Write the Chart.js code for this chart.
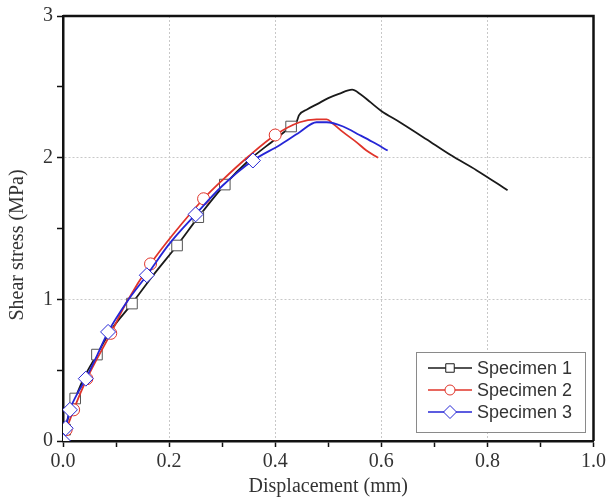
<!DOCTYPE html>
<html>
<head>
<meta charset="utf-8">
<script src="https://cdn.jsdelivr.net/npm/chart.js@4/dist/chart.umd.min.js"></script>
<style>
  html, body { margin: 0; padding: 0; background: #fff; }
  #wrap { width: 609px; height: 501px; position: relative; }
</style>
</head>
<body>
<div id="wrap"><canvas id="chart-shear"></canvas></div>
<script>
// ── Data ───────────────────────────────────────────────────────
const seriesLabels = ["Specimen 1", "Specimen 2", "Specimen 3"];
const yTitle = "Shear stress (MPa)";
const xTitle = "Displacement (mm)";

// Specimen 1 (black, squares)
const s1Disp   = [0, 0.004, 0.010, 0.023, 0.040, 0.064, 0.090, 0.130, 0.170, 0.215, 0.255, 0.305, 0.350, 0.400, 0.430, 0.440, 0.445, 0.460, 0.480, 0.500, 0.520, 0.545, 0.560, 0.580, 0.600, 0.635, 0.685, 0.730, 0.780, 0.838];
const s1Stress = [0, 0.08, 0.17, 0.30, 0.45, 0.61, 0.78, 0.97, 1.17, 1.38, 1.58, 1.81, 1.98, 2.13, 2.22, 2.25, 2.30, 2.34, 2.38, 2.42, 2.45, 2.48, 2.45, 2.39, 2.33, 2.25, 2.13, 2.02, 1.91, 1.77];
const s1Marks  = [1, 3, 5, 7, 9, 10, 11, 14];

// Specimen 2 (red, circles)
const s2Disp   = [0, 0.006, 0.012, 0.020, 0.045, 0.090, 0.120, 0.165, 0.210, 0.265, 0.300, 0.350, 0.400, 0.446, 0.478, 0.497, 0.509, 0.528, 0.553, 0.572, 0.594];
const s2Stress = [0, 0.08, 0.14, 0.22, 0.44, 0.76, 0.98, 1.25, 1.47, 1.71, 1.84, 2.01, 2.16, 2.25, 2.27, 2.27, 2.24, 2.18, 2.11, 2.05, 2.00];
const s2Marks  = [1, 3, 4, 5, 7, 9, 12];

// Specimen 3 (blue, diamonds)
const s3Disp   = [0, 0.005, 0.013, 0.025, 0.043, 0.065, 0.085, 0.120, 0.158, 0.200, 0.250, 0.300, 0.358, 0.409, 0.446, 0.478, 0.497, 0.528, 0.559, 0.584, 0.612];
const s3Stress = [0, 0.09, 0.22, 0.32, 0.44, 0.61, 0.77, 0.98, 1.17, 1.39, 1.60, 1.80, 1.98, 2.09, 2.18, 2.25, 2.25, 2.22, 2.16, 2.11, 2.05];
const s3Marks  = [0, 1, 2, 4, 6, 8, 10, 12];

// Axis ranges / ticks
const xRange = [0, 1.0];
const yRange = [0, 3];
const xStep  = 0.1;   // labelled every 0.2
const yStep  = 0.5;   // labelled every 1

// ── Helpers ───────────────────────────────────────────────────
const toPoints = (xs, ys) => xs.map((x, i) => ({ x, y: ys[i] }));
const radii    = (xs, marks, r) => xs.map((_, i) => (marks.includes(i) ? r : 0));

const SERIF = "'Liberation Serif', 'Times New Roman', serif";
const SANS  = "'Liberation Sans', Arial, sans-serif";

const isMajorX = (v) => Math.round(v * 10) % 2 === 0;
const isMajorY = (v) => Math.abs(v - Math.round(v)) < 1e-6;

// Box frame (top + right edges) and the rotated y title
const framePlugin = {
  id: "frame",
  afterDatasetsDraw(chart) {
    const { ctx, chartArea: a } = chart;
    ctx.save();
    ctx.strokeStyle = "#111";
    ctx.lineWidth = 2.5;
    ctx.beginPath();
    ctx.moveTo(a.left, a.top);
    ctx.lineTo(a.right, a.top);
    ctx.lineTo(a.right, a.bottom);
    ctx.stroke();
    ctx.restore();
  },
  afterDraw(chart) {
    const { ctx } = chart;
    ctx.save();
    ctx.translate(18, 245);
    ctx.rotate(-Math.PI / 2);
    ctx.fillStyle = "#333";
    ctx.font = "20px " + SERIF;
    ctx.textAlign = "center";
    ctx.textBaseline = "middle";
    ctx.fillText(yTitle, 0, 0);
    ctx.restore();
  },
};

// Origin-style legend: line with marker in middle
const legendPlugin = {
  id: "originLegend",
  afterDraw(chart) {
    const { ctx } = chart;
    const box = { x: 416, y: 352, w: 169, h: 80 };
    ctx.save();
    ctx.fillStyle = "#fff";
    ctx.fillRect(box.x, box.y, box.w, box.h);
    ctx.strokeStyle = "#8a8a8a";
    ctx.lineWidth = 1;
    ctx.strokeRect(box.x + 0.5, box.y + 0.5, box.w, box.h);

    chart.data.datasets.forEach((ds, i) => {
      const y = 368 + i * 22;
      ctx.strokeStyle = ds.borderColor;
      ctx.lineWidth = 1.6;
      ctx.beginPath();
      ctx.moveTo(428, y);
      ctx.lineTo(472, y);
      ctx.stroke();
      ctx.fillStyle = "#fff";
      ctx.lineWidth = 1;
      Chart.helpers.drawPoint(ctx, {
        pointStyle: ds.pointStyle,
        radius: ds.pointStyle === "circle" ? 5 : ds.pointStyle === "rectRot" ? 6.5 : 6,
        borderWidth: 1,
        rotation: 0,
      }, 450, y);
      ctx.fillStyle = "#333";
      ctx.font = "18px " + SANS;
      ctx.textBaseline = "middle";
      ctx.fillText(ds.label, 477, y + 1);
    });
    ctx.restore();
  },
};

const dataset = (label, xs, ys, marks, color, style, r) => ({
  label,
  data: toPoints(xs, ys),
  borderColor: color,
  backgroundColor: "#fff",
  borderWidth: 1.8,
  pointStyle: style,
  pointRadius: radii(xs, marks, r),
  pointBorderColor: color === "#1a1a1a" ? "#555" : color,
  pointBackgroundColor: "#fff",
  pointBorderWidth: 1,
  pointHoverRadius: 0,
  cubicInterpolationMode: "monotone",
  fill: false,
});

new Chart(document.getElementById("chart-shear"), {
  type: "line",
  data: {
    datasets: [
      { ...dataset(seriesLabels[0], s1Disp, s1Stress, s1Marks, "#1a1a1a", "rect", 7.5), order: 2 },
      { ...dataset(seriesLabels[1], s2Disp, s2Stress, s2Marks, "#e0342a", "circle", 6), order: 1 },
      { ...dataset(seriesLabels[2], s3Disp, s3Stress, s3Marks, "#2626d6", "rectRot", 7.5), order: 0 },
    ],
  },
  options: {
    responsive: true,
    maintainAspectRatio: false,
    animation: false,
    layout: { padding: { top: 16, right: 15, left: 0, bottom: 0 } },
    plugins: { legend: { display: false }, tooltip: { enabled: false } },
    scales: {
      x: {
        type: "linear",
        min: xRange[0],
        max: xRange[1],
        afterFit: (s) => { s.height = 60; },
        afterBuildTicks: (s) => {
          s.ticks = [];
          for (let k = 0; k <= 10; k++) s.ticks.push({ value: +(xRange[0] + k * xStep).toFixed(1) });
        },
        ticks: {
          autoSkip: false,
          maxRotation: 0,
          padding: 3,
          color: "#333",
          font: { family: SERIF, size: 20 },
          callback: (v) => (isMajorX(v) ? v.toFixed(1) : ""),
        },
        grid: {
          color: (c) => (c.tick && isMajorX(c.tick.value) && c.tick.value > 0 && c.tick.value < 1 ? "#c8c8c8" : "rgba(0,0,0,0)"),
          lineWidth: 1,
          tickLength: 6,
          tickColor: "#111",
          tickWidth: 1.5,
        },
        border: { color: "#111", width: 2.5, dash: [2, 2] },
        title: {
          display: true,
          text: xTitle,
          color: "#333",
          font: { family: SERIF, size: 20 },
          padding: { top: 0, bottom: 2 },
        },
      },
      y: {
        type: "linear",
        min: yRange[0],
        max: yRange[1],
        afterFit: (s) => { s.width = 63; },
        afterBuildTicks: (s) => {
          s.ticks = [];
          for (let k = 0; k <= 6; k++) s.ticks.push({ value: yRange[0] + k * yStep });
        },
        ticks: {
          autoSkip: false,
          padding: 4,
          color: "#333",
          font: { family: SERIF, size: 20 },
          callback: (v) => (isMajorY(v) ? String(Math.round(v)) : ""),
        },
        grid: {
          color: (c) => (c.tick && isMajorY(c.tick.value) && c.tick.value > 0 && c.tick.value < 3 ? "#c8c8c8" : "rgba(0,0,0,0)"),
          lineWidth: 1,
          tickLength: 6,
          tickColor: "#111",
          tickWidth: 1.5,
        },
        border: { color: "#111", width: 2.5, dash: [2, 2] },
        title: { display: false },
      },
    },
  },
  plugins: [framePlugin, legendPlugin],
});
</script>
</body>
</html>
